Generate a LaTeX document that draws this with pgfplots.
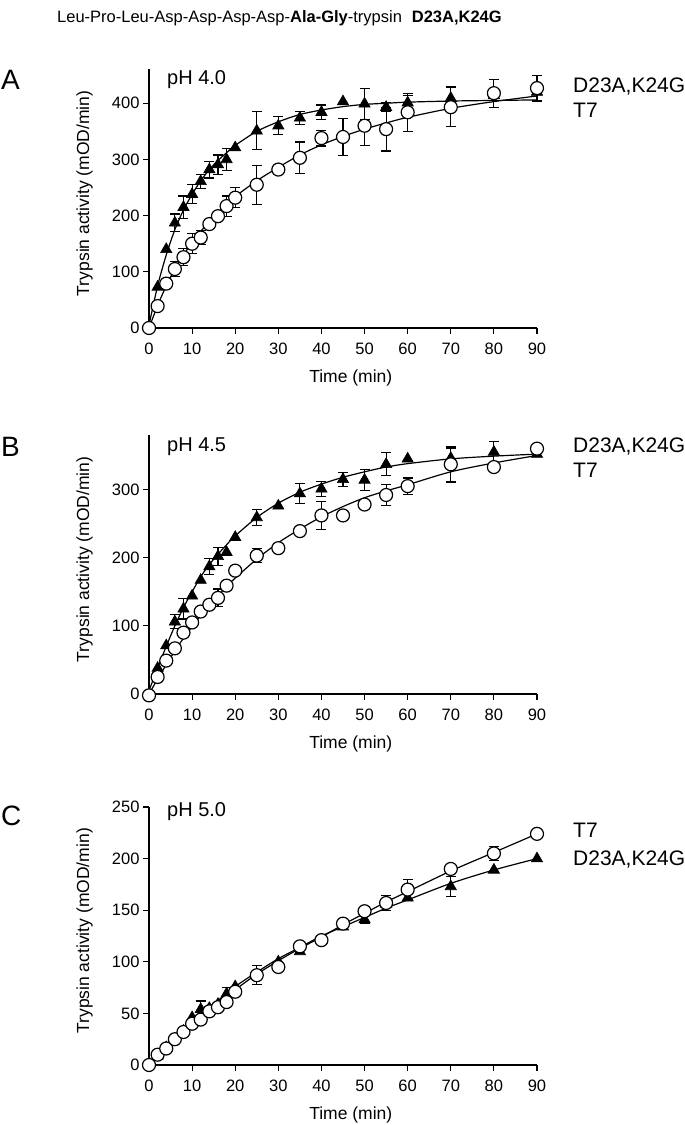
\documentclass[border=0pt]{standalone}
\usepackage{fontspec}
\setmainfont{Liberation Sans}
\usepackage{pgfplots}
\pgfplotsset{compat=1.18}

\pgfplotsset{
  panel/.style={
    scale only axis, width=388pt,
    xmin=0, xmax=90, ymin=0,
    axis lines*=left,
    axis line style={line width=1.2pt},
    tick align=outside, major tick length=6pt,
    tick style={line width=1.2pt, black},
    xtick={0,10,...,90},
    clip=false,
    /pgf/number format/assume math mode=true,
    tick label style={font=\fontsize{16.5}{16.5}\selectfont},
    xticklabel style={yshift=-5pt},
    label style={font=\fontsize{17.5}{17.5}\selectfont},
    xlabel={Time (min)},
    ylabel={Trypsin activity (mOD/min)},
    xlabel style={at={(axis description cs:0.52,-0.193)}, anchor=center},
    ylabel style={at={(axis description cs:-0.166,0.52)}, anchor=center},
    anchor=south west,
  },
  fit/.style={black, line width=1.2pt, smooth, mark=none},
  tri/.style={only marks, mark=triangle*, mark size=6.5pt, mark options={fill=black, draw=black, line width=0.6pt}},
  cir/.style={only marks, mark=*, mark size=6.5pt, mark options={fill=white, draw=black, line width=1.2pt}},
  eb/.style={only marks, mark=none, forget plot, error bars/.cd, y dir=both, y explicit, error bar style={black, line width=1.1pt}, error mark=-, error mark options={rotate=90, black, line width=1.1pt, mark size=5pt}},
}

\begin{document}
\begin{tikzpicture}
\useasboundingbox (0,0) rectangle (685pt,-1125pt);

\node[anchor=base west, font=\fontsize{16.5}{16.5}\selectfont, inner sep=0] at (57pt,-22pt)
  {Leu-Pro-Leu-Asp-Asp-Asp-Asp-\textbf{Ala-Gly}-trypsin\hspace{0.6em}\textbf{D23A,K24G}};

% ---------------- Panel A ----------------
\begin{axis}[panel, at={(149pt,-328pt)}, height=259pt, ymax=461, ytick={0,100,200,300,400}]
\addplot[fit] coordinates {(0,5) (2,75) (4,130) (6,175) (8,210) (10,238) (12,262) (14,282) (16,298) (18,312) (20,325) (25,350) (30,367) (35,380) (40,388) (45,394) (50,398) (55,400) (60,402) (70,404) (80,405) (90,406)};
\addplot[fit] coordinates {(0,0) (2,40) (4,75) (6,105) (8,130) (10,152) (12,172) (14,190) (16,206) (18,220) (20,234) (25,262) (30,286) (35,308) (40,326) (45,341) (50,354) (55,365) (60,375) (70,391) (80,403) (90,413)};
\addplot[eb] table[x=x,y=y,y error=e] {
x y e
6 187 16
8 215 20
10 238 17
12 261 12
14 282 15
16 291 17
18 300 20
25 351 34
30 360 16
35 374 12
40 384 13
50 399 28
55 393 8
60 401 13
70 409 20
};
\addplot[eb] table[x=x,y=y,y error=e] {
x y e
6 105 14
8 126 15
10 150 18
12 161 12
18 217 18
20 232 18
25 255 35
35 303 28
40 338 14
45 340 33
50 360 35
55 354 39
60 384 34
70 393 35
80 418 25
90 427 23
};
\addplot[tri] table {
x y
0 0
2 73
4 140
6 187
8 215
10 238
12 261
14 282
16 291
18 300
20 321
25 351
30 360
35 374
40 384
45 403
50 399
55 393
60 401
70 409
80 414
90 420
};
\addplot[cir] table {
x y
0 0
2 39
4 79
6 105
8 126
10 150
12 161
14 185
16 199
18 217
20 232
25 255
30 282
35 303
40 338
45 340
50 360
55 354
60 384
70 393
80 418
90 427
};
\end{axis}

% ---------------- Panel B ----------------
\begin{axis}[panel, at={(149pt,-694pt)}, height=259pt, ymax=380, ytick={0,100,200,300}]
\addplot[fit] coordinates {(0,5) (2,38) (4,70) (6,100) (8,127) (10,150) (12,172) (14,190) (16,205) (18,219) (20,232) (25,259) (30,280) (35,296) (40,308) (45,318) (50,326) (55,333) (60,338) (70,345) (80,349) (90,352)};
\addplot[fit] coordinates {(0,0) (2,22) (4,43) (6,63) (8,82) (10,99) (12,115) (14,130) (16,144) (18,158) (20,170) (25,198) (30,222) (35,242) (40,260) (45,275) (50,288) (55,298) (60,307) (70,326) (80,339) (90,350)};
\addplot[eb] table[x=x,y=y,y error=e] {
x y e
6 106 10
8 125 15
14 187 12
16 202 13
25 259 12
35 294 15
40 301 11
45 315 10
50 314 15
55 337 17
70 346 15
80 355 15
};
\addplot[eb] table[x=x,y=y,y error=e] {
x y e
16 141 13
25 203 10
40 262 21
55 292 15
60 305 12
70 337 26
};
\addplot[tri] table {
x y
0 0
2 38
4 71
6 106
8 125
10 144
12 167
14 187
16 202
18 208
20 230
25 259
30 276
35 294
40 301
45 315
50 314
55 337
60 345
70 346
80 355
90 352
};
\addplot[cir] table {
x y
0 -2
2 25
4 49
6 67
8 90
10 105
12 121
14 131
16 141
18 159
20 181
25 203
30 214
35 239
40 262
45 262
50 278
55 292
60 305
70 337
80 333
90 360
};
\end{axis}

% ---------------- Panel C ----------------
\begin{axis}[panel, at={(149pt,-1065pt)}, height=258pt, ymax=250, ytick={0,50,100,150,200,250}]
\addplot[fit] coordinates {(0,0) (5,21) (10,41) (15,59) (20,76) (25,90) (30,103) (35,114) (40,125) (45,134) (50,143) (55,152) (60,160) (70,176) (80,189) (90,200)};
\addplot[fit] coordinates {(0,0) (5,20) (10,40) (15,57) (20,73) (25,88) (30,101) (35,113) (40,124) (45,136) (50,147) (55,158) (60,168) (70,188) (80,206) (90,224)};
\addplot[eb] table[x=x,y=y,y error=e] {
x y e
12 54 8
18 69 6
50 141 4
70 173 10
};
\addplot[eb] table[x=x,y=y,y error=e] {
x y e
25 87 9
55 157 7
60 170 10
80 205 7
};
\addplot[tri] table {
x y
0 0
2 9
4 17
6 25
8 33
10 46
12 54
14 55
16 59
18 69
20 76
25 88
30 100
35 110
40 121
45 134
50 141
55 156
60 162
70 173
80 189
90 200
};
\addplot[cir] table {
x y
0 0
2 10
4 16
6 25
8 32
10 40
12 44
14 52
16 56
18 61
20 71
25 87
30 95
35 115
40 121
45 137
50 149
55 157
60 170
70 190
80 205
90 224
};
\end{axis}

% panel letters
\node[anchor=west, inner sep=0, font=\fontsize{28}{28}\selectfont] at (1pt,-80pt) {A};
\node[anchor=west, inner sep=0, font=\fontsize{28}{28}\selectfont] at (1pt,-447pt) {B};
\node[anchor=west, inner sep=0, font=\fontsize{28}{28}\selectfont] at (1pt,-816pt) {C};

% pH labels
\node[anchor=base west, inner sep=0, font=\fontsize{20}{20}\selectfont] at (167pt,-84pt) {pH 4.0};
\node[anchor=base west, inner sep=0, font=\fontsize{20}{20}\selectfont] at (167pt,-451pt) {pH 4.5};
\node[anchor=base west, inner sep=0, font=\fontsize{20}{20}\selectfont] at (167pt,-816pt) {pH 5.0};

% legends
\begin{scope}[every node/.style={anchor=base west, inner sep=0, font=\fontsize{21}{21}\selectfont}]
\node at (573pt,-92pt) {D23A,K24G};
\node at (573pt,-117pt) {T7};
\node at (573pt,-452pt) {D23A,K24G};
\node at (573pt,-477pt) {T7};
\node at (573pt,-837pt) {T7};
\node at (573pt,-865pt) {D23A,K24G};
\end{scope}
\end{tikzpicture}
\end{document}
